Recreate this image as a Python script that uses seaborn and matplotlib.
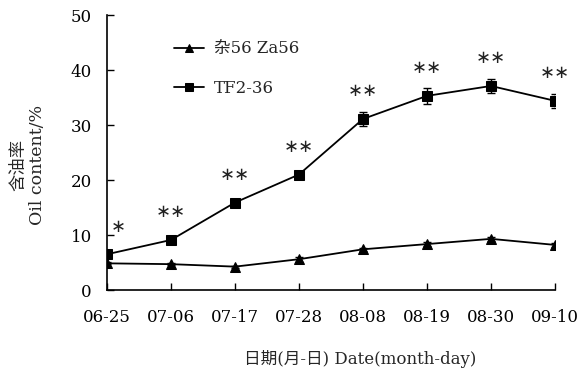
import numpy as np
import pandas as pd
import matplotlib
matplotlib.use('Agg')
import matplotlib.pyplot as plt
import seaborn as sns

# data
dates = ['06-25', '07-06', '07-17', '07-28', '08-08', '08-19', '08-30', '09-10']
za56 = [4.85, 4.7, 4.25, 5.6, 7.4, 8.35, 9.3, 8.2]
za56_err = [0.2, 0.2, 0.2, 0.45, 0.3, 0.3, 0.3, 0.4]
tf236 = [6.5, 9.1, 15.9, 21.0, 31.1, 35.3, 37.1, 34.4]
tf236_err = [0.3, 0.3, 0.3, 0.4, 1.2, 1.4, 1.2, 1.3]
sig = ['∗', '∗∗', '∗∗', '∗∗', '∗∗', '∗∗', '∗∗', '∗∗']
y_ticks = [0, 10, 20, 30, 40, 50]

sns.set_theme(style='ticks')
plt.rcParams['font.family'] = ['DejaVu Serif', 'Noto Sans CJK SC']
plt.rcParams['axes.unicode_minus'] = False

df = pd.DataFrame({
    'date': dates * 2,
    'oil': za56 + tf236,
    'line': ['杂56 Za56'] * len(dates) + ['TF2-36'] * len(dates),
})

fig = plt.figure(figsize=(5.79, 3.70), dpi=100)
ax = fig.add_axes([0.1848, 0.2162, 0.7737, 0.7432])

sns.lineplot(data=df, x='date', y='oil', hue='line', style='line',
             markers=['^', 's'], dashes=False, palette=['black', 'black'],
             markersize=7, linewidth=1.3, markeredgecolor='black', ax=ax)

xpos = np.arange(len(dates))
ax.errorbar(xpos, za56, yerr=za56_err, fmt='none', ecolor='black', elinewidth=1, capsize=3)
ax.errorbar(xpos, tf236, yerr=tf236_err, fmt='none', ecolor='black', elinewidth=1, capsize=3)

# significance marks above TF2-36
for i, (v, s) in enumerate(zip(tf236, sig)):
    dx = 0.17 if i == 0 else 0
    ax.text(i + dx, v + 5.0, s, ha='center', va='center', fontsize=13,
            family='DejaVu Sans', color='#222222')

ax.set_xlim(0, len(dates) - 1)
ax.set_ylim(0, 50)
ax.set_yticks(y_ticks)
ax.set_xticks(xpos)
ax.set_xticklabels(dates)
ax.tick_params(direction='in', length=5, width=1, labelsize=12, colors='black')
ax.tick_params(axis='x', pad=14)
ax.tick_params(axis='y', pad=11)
for sp in ['top', 'right']:
    ax.spines[sp].set_visible(False)
for sp in ['left', 'bottom']:
    ax.spines[sp].set_linewidth(1.2)
    ax.spines[sp].set_color('black')

ax.set_xlabel('日期(月-日) Date(month-day)', fontsize=12)
ax.xaxis.set_label_coords(0.565, -0.218)
ax.set_ylabel('含油率\nOil content/%', fontsize=12.5, linespacing=1.15)
ax.yaxis.set_label_coords(-0.136, 0.455)

leg = ax.legend(loc='upper left', bbox_to_anchor=(0.115, 0.962), frameon=False,
                fontsize=12, handlelength=1.85, labelspacing=1.35, handletextpad=0.6,
                markerscale=0.8)

fig.savefig('out.png', dpi=100)
